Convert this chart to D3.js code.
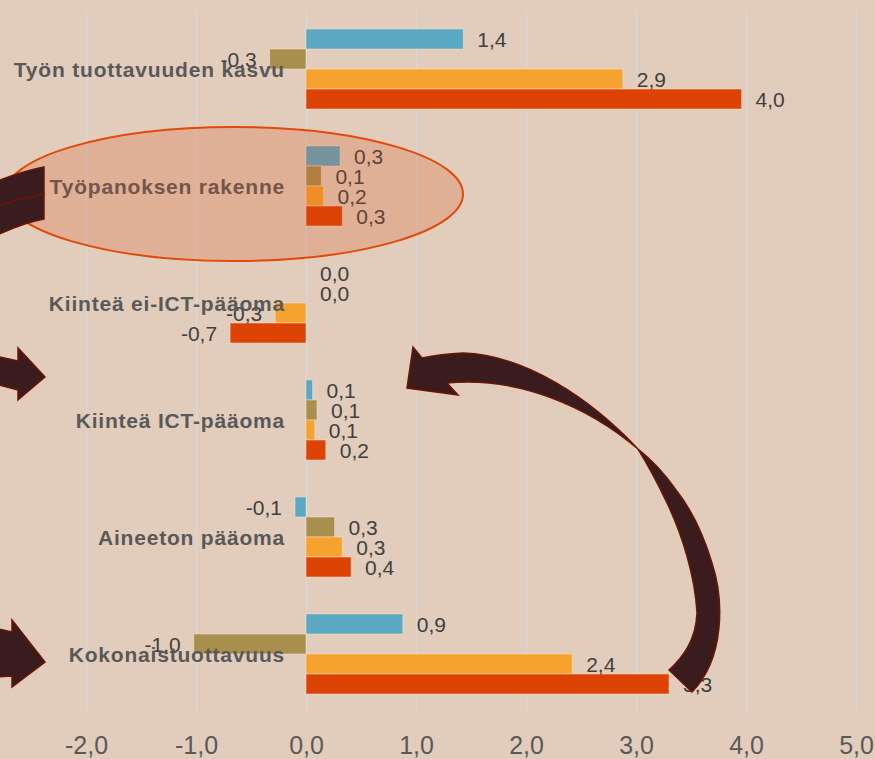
<!DOCTYPE html>
<html>
<head>
<meta charset="utf-8">
<script src="https://cdn.jsdelivr.net/npm/d3@7"></script>
<style>
  html, body { margin: 0; padding: 0; background: #e2cdbc; }
  svg { display: block; }
</style>
</head>
<body>
<svg id="chart"></svg>
<script>
// luokat (ylhäältä alas)
const categories = [
    "Työn tuottavuuden kasvu",
    "Työpanoksen rakenne",
    "Kiinteä ei-ICT-pääoma",
    "Kiinteä ICT-pääoma",
    "Aineeton pääoma",
    "Kokonaistuottavuus"
];

// sarjat, arvot luettu kuvasta
const seriesBlue   = [1.43, 0.31, 0.0, 0.06, -0.1, 0.88];
const seriesOlive  = [-0.33, 0.14, 0.0, 0.1, 0.26, -1.02];
const seriesOrange = [2.88, 0.16, -0.28, 0.08, 0.33, 2.42];
const seriesRed    = [3.96, 0.33, -0.69, 0.18, 0.41, 3.3];

const seriesNames = ["s1", "s2", "s3", "s4"];
const xTicks = [-2, -1, 0, 1, 2, 3, 4, 5];

const width = 875;
const height = 759;

const colors = ["#5ba8c2", "#a88f4e", "#f6a22e", "#dc4305"];

let allSeries = [seriesBlue, seriesOlive, seriesOrange, seriesRed];

// suomalainen numeromuoto: pilkku ja tavallinen miinus
let fi = d3.formatLocale({decimal: ",", thousands: " ", grouping: [3], currency: ["", " €"], minus: "-"});
let fmt1 = fi.format(".1f");

let svg = d3.select("#chart")
    .attr("width", width)
    .attr("height", height);

svg.append("rect")
    .attr("width", width)
    .attr("height", height)
    .attr("fill", "#e2cdbc");

// asteikot
let scaleX = d3.scaleLinear()
    .domain([-2, 5])
    .range([86, 856]);

let scaleY = d3.scaleBand()
    .domain(categories)
    .range([29, 694])
    .paddingInner(0.316)
    .paddingOuter(0);

let scaleS = d3.scaleBand()
    .domain(seriesNames)
    .range([0, scaleY.bandwidth()]);

// pystysuuntainen ruudukko
let axisX = d3.axisBottom(scaleX)
    .tickValues(xTicks)
    .tickSize(0)
    .tickFormat(d => fmt1(d));

let gx = svg.append("g")
    .attr("class", "x-axis")
    .attr("transform", "translate(0, 712)")
    .call(axisX);
gx.select(".domain").remove();
gx.selectAll(".tick line")
    .attr("y1", 0)
    .attr("y2", 10 - 712)
    .attr("stroke", "#d8d8d8")
    .attr("stroke-width", 1.5);
gx.selectAll(".tick text")
    .attr("y", 42)
    .attr("dy", 0)
    .attr("fill", "#595959")
    .style("font", "25px 'Liberation Sans', Arial, sans-serif");

// pylväät
let rows = [];
categories.forEach((cat, ci) => {
    allSeries.forEach((ser, si) => {
        rows.push({cat: cat, ci: ci, si: si, name: seriesNames[si], value: ser[ci]});
    });
});

svg.append("g")
    .selectAll("rect")
    .data(rows)
    .enter()
    .append("rect")
    .attr("x", d => Math.min(scaleX(0), scaleX(d.value)))
    .attr("width", d => Math.abs(scaleX(d.value) - scaleX(0)))
    .attr("y", d => scaleY(d.cat) + scaleS(d.name))
    .attr("height", scaleS.bandwidth())
    .attr("fill", d => colors[d.si])
    .attr("stroke", "rgba(255,235,220,0.45)")
    .attr("stroke-width", 1);

// arvojen tekstit
svg.append("g")
    .selectAll("text")
    .data(rows)
    .enter()
    .append("text")
    .attr("x", d => d.value < 0 ? scaleX(d.value) - 13 : scaleX(d.value) + 14)
    .attr("y", d => scaleY(d.cat) + scaleS(d.name) + scaleS.bandwidth() / 2)
    .attr("dy", "0.36em")
    .attr("text-anchor", d => d.value < 0 ? "end" : "start")
    .attr("fill", "#404040")
    .style("font", "21px 'Liberation Sans', Arial, sans-serif")
    .text(d => fmt1(d.value));

// luokkien nimet
svg.append("g")
    .selectAll("text")
    .data(categories)
    .enter()
    .append("text")
    .attr("x", 285)
    .attr("y", d => scaleY(d) + scaleY.bandwidth() / 2)
    .attr("dy", "0.37em")
    .attr("text-anchor", "end")
    .attr("fill", "#595959")
    .style("font", "bold 21px 'Liberation Sans', Arial, sans-serif")
    .style("letter-spacing", "0.8px")
    .text(d => d);

// korostusellipsi työpanoksen rakenteen päälle
let hl = scaleY(categories[1]) + scaleY.bandwidth() / 2;
svg.append("ellipse")
    .attr("cx", 234)
    .attr("cy", hl + 8)
    .attr("rx", 229)
    .attr("ry", 67)
    .attr("fill", "#d44912")
    .attr("fill-opacity", 0.22)
    .attr("stroke", "#e04a0a")
    .attr("stroke-width", 2);

// nuolet
let arrows = svg.append("g")
    .attr("fill", "#3a1c1e")
    .attr("stroke", "#6a1600")
    .attr("stroke-width", 1.5)
    .attr("stroke-linejoin", "miter");

// vasen ylä (kaareva, osin kuvan ulkopuolella)
arrows.append("path")
    .attr("d", "M-5,182 C10,176 28,170 44,167 L44,194 C28,197 12,201 -5,207 Z");
arrows.append("path")
    .attr("d", "M-5,207 C12,201 28,197 44,194 L44,219 C28,222 12,228 -5,236 Z");

// vasen keski
arrows.append("path")
    .attr("d", "M-5,356 L18,361 L18,348 L45,377 L18,400 L18,390 L-5,384 Z");

// vasen ala
arrows.append("path")
    .attr("d", "M-5,628 L12,632 L12,620 L45,662 L12,687 L12,676 L-5,677 Z");

// iso kaareva nuoli oikealla
arrows.append("path")
    .attr("d", "M669,670 L692,692 C725,658 724,600 712,563 C702,530 688,505 676,490 C665,474 652,460 638,449 " +
               "C590,398 525,355 463,353 C445,354 432,356 422,358 L413,347 L407,388 L458,395 L447,383 " +
               "C520,376 590,408 638,449 C650,468 660,488 668,505 C682,535 695,575 697,613 C696,640 683,657 669,670 Z");
</script>
</body>
</html>
